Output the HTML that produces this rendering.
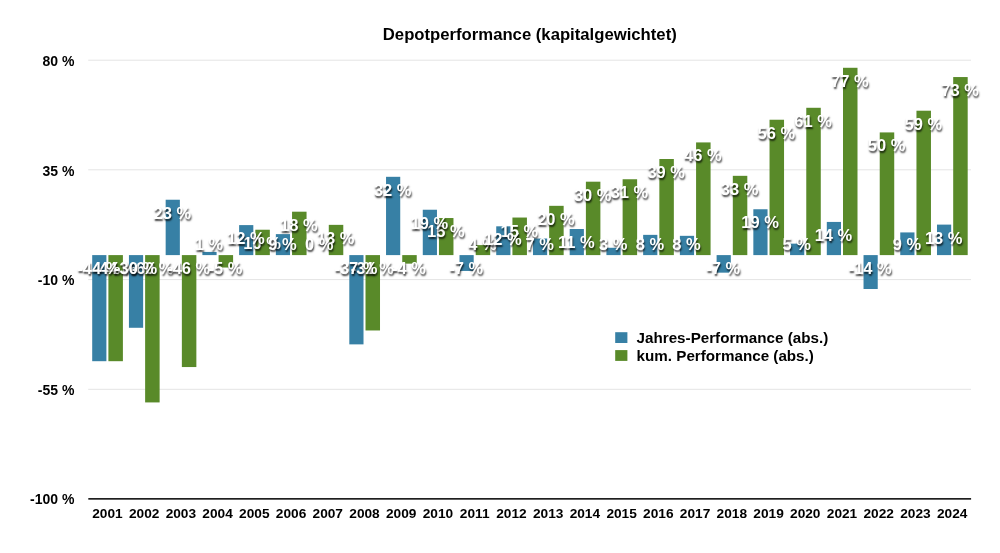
<!DOCTYPE html>
<html lang="de"><head><meta charset="utf-8"><title>Depotperformance (kapitalgewichtet)</title>
<style>
html,body{margin:0;padding:0;background:#fff;}
body{width:1000px;height:553px;position:relative;overflow:hidden;font-family:"Liberation Sans",Arial,Helvetica,sans-serif;font-weight:bold;color:#000;}
svg{position:absolute;left:0;top:0;}
.t{position:absolute;white-space:nowrap;font-weight:bold;}
.v{color:#fff;text-shadow:0.7px 1.6px 1.8px rgba(0,0,0,.75);}
</style></head><body>
<svg width="1000" height="553" viewBox="0 0 1000 553">
<rect x="88.2" y="59.70" width="882.8" height="1" fill="#e4e4e4"/>
<rect x="88.2" y="169.30" width="882.8" height="1" fill="#e4e4e4"/>
<rect x="88.2" y="279.10" width="882.8" height="1" fill="#e4e4e4"/>
<rect x="88.2" y="388.80" width="882.8" height="1" fill="#e4e4e4"/>
<rect x="92.20" y="255.10" width="14.2" height="106.10" fill="#3780a5"/>
<rect x="108.40" y="255.10" width="14.5" height="106.10" fill="#598a29"/>
<rect x="128.93" y="255.10" width="14.2" height="72.68" fill="#3780a5"/>
<rect x="145.13" y="255.10" width="14.5" height="147.32" fill="#598a29"/>
<rect x="165.66" y="199.73" width="14.2" height="55.37" fill="#3780a5"/>
<rect x="181.86" y="255.10" width="14.5" height="111.95" fill="#598a29"/>
<rect x="202.39" y="251.93" width="14.2" height="3.17" fill="#3780a5"/>
<rect x="218.59" y="255.10" width="14.5" height="12.44" fill="#598a29"/>
<rect x="239.12" y="225.10" width="14.2" height="30.00" fill="#3780a5"/>
<rect x="255.32" y="229.73" width="14.5" height="25.37" fill="#598a29"/>
<rect x="275.85" y="234.12" width="14.2" height="20.98" fill="#3780a5"/>
<rect x="292.05" y="211.69" width="14.5" height="43.41" fill="#598a29"/>
<rect x="328.78" y="224.86" width="14.5" height="30.24" fill="#598a29"/>
<rect x="349.31" y="255.10" width="14.2" height="89.27" fill="#3780a5"/>
<rect x="365.51" y="255.10" width="14.5" height="75.37" fill="#598a29"/>
<rect x="386.04" y="176.81" width="14.2" height="78.29" fill="#3780a5"/>
<rect x="402.24" y="255.10" width="14.5" height="8.54" fill="#598a29"/>
<rect x="422.77" y="209.73" width="14.2" height="45.37" fill="#3780a5"/>
<rect x="438.97" y="218.03" width="14.5" height="37.07" fill="#598a29"/>
<rect x="459.50" y="255.10" width="14.2" height="15.85" fill="#3780a5"/>
<rect x="475.70" y="245.10" width="14.5" height="10.00" fill="#598a29"/>
<rect x="496.23" y="226.32" width="14.2" height="28.78" fill="#3780a5"/>
<rect x="512.43" y="217.54" width="14.5" height="37.56" fill="#598a29"/>
<rect x="532.96" y="238.51" width="14.2" height="16.59" fill="#3780a5"/>
<rect x="549.16" y="205.83" width="14.5" height="49.27" fill="#598a29"/>
<rect x="569.69" y="229.00" width="14.2" height="26.10" fill="#3780a5"/>
<rect x="585.89" y="181.69" width="14.5" height="73.41" fill="#598a29"/>
<rect x="606.42" y="247.78" width="14.2" height="7.32" fill="#3780a5"/>
<rect x="622.62" y="179.25" width="14.5" height="75.85" fill="#598a29"/>
<rect x="643.15" y="234.86" width="14.2" height="20.24" fill="#3780a5"/>
<rect x="659.35" y="159.00" width="14.5" height="96.10" fill="#598a29"/>
<rect x="679.88" y="235.83" width="14.2" height="19.27" fill="#3780a5"/>
<rect x="696.08" y="142.42" width="14.5" height="112.68" fill="#598a29"/>
<rect x="716.61" y="255.10" width="14.2" height="17.56" fill="#3780a5"/>
<rect x="732.81" y="175.83" width="14.5" height="79.27" fill="#598a29"/>
<rect x="753.34" y="209.25" width="14.2" height="45.85" fill="#3780a5"/>
<rect x="769.54" y="119.74" width="14.5" height="135.36" fill="#598a29"/>
<rect x="790.07" y="243.64" width="14.2" height="11.46" fill="#3780a5"/>
<rect x="806.27" y="107.78" width="14.5" height="147.32" fill="#598a29"/>
<rect x="826.80" y="221.93" width="14.2" height="33.17" fill="#3780a5"/>
<rect x="843.00" y="67.78" width="14.5" height="187.32" fill="#598a29"/>
<rect x="863.53" y="255.10" width="14.2" height="33.90" fill="#3780a5"/>
<rect x="879.73" y="132.42" width="14.5" height="122.68" fill="#598a29"/>
<rect x="900.26" y="232.42" width="14.2" height="22.68" fill="#3780a5"/>
<rect x="916.46" y="110.71" width="14.5" height="144.39" fill="#598a29"/>
<rect x="936.99" y="224.61" width="14.2" height="30.49" fill="#3780a5"/>
<rect x="953.19" y="77.05" width="14.5" height="178.05" fill="#598a29"/>
<rect x="88.3" y="498" width="882.8" height="1.7" fill="#1f1f1f"/>
<rect x="615.2" y="332.2" width="12.2" height="10.8" fill="#3780a5"/>
<rect x="615.2" y="350.1" width="12.2" height="10.8" fill="#598a29"/>
</svg>
<div class="t" style="right:925.60px;top:53px;font-size:14px;line-height:16px;">80 %</div>
<div class="t" style="right:925.60px;top:163px;font-size:14px;line-height:16px;">35 %</div>
<div class="t" style="right:925.60px;top:272px;font-size:14px;line-height:16px;">-10 %</div>
<div class="t" style="right:925.60px;top:382px;font-size:14px;line-height:16px;">-55 %</div>
<div class="t" style="right:925.60px;top:491px;font-size:14px;line-height:16px;">-100 %</div>
<div class="t" style="left:-42.60px;width:300px;text-align:center;top:506px;font-size:13.7px;line-height:15px;">2001</div>
<div class="t" style="left:-5.87px;width:300px;text-align:center;top:506px;font-size:13.7px;line-height:15px;">2002</div>
<div class="t" style="left:30.86px;width:300px;text-align:center;top:506px;font-size:13.7px;line-height:15px;">2003</div>
<div class="t" style="left:67.59px;width:300px;text-align:center;top:506px;font-size:13.7px;line-height:15px;">2004</div>
<div class="t" style="left:104.32px;width:300px;text-align:center;top:506px;font-size:13.7px;line-height:15px;">2005</div>
<div class="t" style="left:141.05px;width:300px;text-align:center;top:506px;font-size:13.7px;line-height:15px;">2006</div>
<div class="t" style="left:177.78px;width:300px;text-align:center;top:506px;font-size:13.7px;line-height:15px;">2007</div>
<div class="t" style="left:214.51px;width:300px;text-align:center;top:506px;font-size:13.7px;line-height:15px;">2008</div>
<div class="t" style="left:251.24px;width:300px;text-align:center;top:506px;font-size:13.7px;line-height:15px;">2009</div>
<div class="t" style="left:287.97px;width:300px;text-align:center;top:506px;font-size:13.7px;line-height:15px;">2010</div>
<div class="t" style="left:324.70px;width:300px;text-align:center;top:506px;font-size:13.7px;line-height:15px;">2011</div>
<div class="t" style="left:361.43px;width:300px;text-align:center;top:506px;font-size:13.7px;line-height:15px;">2012</div>
<div class="t" style="left:398.16px;width:300px;text-align:center;top:506px;font-size:13.7px;line-height:15px;">2013</div>
<div class="t" style="left:434.89px;width:300px;text-align:center;top:506px;font-size:13.7px;line-height:15px;">2014</div>
<div class="t" style="left:471.62px;width:300px;text-align:center;top:506px;font-size:13.7px;line-height:15px;">2015</div>
<div class="t" style="left:508.35px;width:300px;text-align:center;top:506px;font-size:13.7px;line-height:15px;">2016</div>
<div class="t" style="left:545.08px;width:300px;text-align:center;top:506px;font-size:13.7px;line-height:15px;">2017</div>
<div class="t" style="left:581.81px;width:300px;text-align:center;top:506px;font-size:13.7px;line-height:15px;">2018</div>
<div class="t" style="left:618.54px;width:300px;text-align:center;top:506px;font-size:13.7px;line-height:15px;">2019</div>
<div class="t" style="left:655.27px;width:300px;text-align:center;top:506px;font-size:13.7px;line-height:15px;">2020</div>
<div class="t" style="left:692.00px;width:300px;text-align:center;top:506px;font-size:13.7px;line-height:15px;">2021</div>
<div class="t" style="left:728.73px;width:300px;text-align:center;top:506px;font-size:13.7px;line-height:15px;">2022</div>
<div class="t" style="left:765.46px;width:300px;text-align:center;top:506px;font-size:13.7px;line-height:15px;">2023</div>
<div class="t" style="left:802.19px;width:300px;text-align:center;top:506px;font-size:13.7px;line-height:15px;">2024</div>
<div class="t v" style="left:-34.75px;width:300px;text-align:center;top:259px;font-size:16.5px;line-height:18px;">-44 %</div>
<div class="t v" style="left:1.98px;width:300px;text-align:center;top:259px;font-size:16.5px;line-height:18px;">-60 %</div>
<div class="t v" style="left:38.71px;width:300px;text-align:center;top:259px;font-size:16.5px;line-height:18px;">-46 %</div>
<div class="t v" style="left:75.44px;width:300px;text-align:center;top:259px;font-size:16.5px;line-height:18px;">-5 %</div>
<div class="t v" style="left:112.17px;width:300px;text-align:center;top:234px;font-size:16.5px;line-height:18px;">10 %</div>
<div class="t v" style="left:148.90px;width:300px;text-align:center;top:216px;font-size:16.5px;line-height:18px;">18 %</div>
<div class="t v" style="left:185.63px;width:300px;text-align:center;top:229px;font-size:16.5px;line-height:18px;">13 %</div>
<div class="t v" style="left:222.36px;width:300px;text-align:center;top:259px;font-size:16.5px;line-height:18px;">-31 %</div>
<div class="t v" style="left:259.09px;width:300px;text-align:center;top:259px;font-size:16.5px;line-height:18px;">-4 %</div>
<div class="t v" style="left:295.82px;width:300px;text-align:center;top:222px;font-size:16.5px;line-height:18px;">15 %</div>
<div class="t v" style="left:332.55px;width:300px;text-align:center;top:235px;font-size:16.5px;line-height:18px;">4 %</div>
<div class="t v" style="left:369.28px;width:300px;text-align:center;top:222px;font-size:16.5px;line-height:18px;">15 %</div>
<div class="t v" style="left:406.01px;width:300px;text-align:center;top:210px;font-size:16.5px;line-height:18px;">20 %</div>
<div class="t v" style="left:442.74px;width:300px;text-align:center;top:186px;font-size:16.5px;line-height:18px;">30 %</div>
<div class="t v" style="left:479.47px;width:300px;text-align:center;top:183px;font-size:16.5px;line-height:18px;">31 %</div>
<div class="t v" style="left:516.20px;width:300px;text-align:center;top:163px;font-size:16.5px;line-height:18px;">39 %</div>
<div class="t v" style="left:552.93px;width:300px;text-align:center;top:146px;font-size:16.5px;line-height:18px;">46 %</div>
<div class="t v" style="left:589.66px;width:300px;text-align:center;top:180px;font-size:16.5px;line-height:18px;">33 %</div>
<div class="t v" style="left:626.39px;width:300px;text-align:center;top:124px;font-size:16.5px;line-height:18px;">56 %</div>
<div class="t v" style="left:663.12px;width:300px;text-align:center;top:112px;font-size:16.5px;line-height:18px;">61 %</div>
<div class="t v" style="left:699.85px;width:300px;text-align:center;top:72px;font-size:16.5px;line-height:18px;">77 %</div>
<div class="t v" style="left:736.58px;width:300px;text-align:center;top:136px;font-size:16.5px;line-height:18px;">50 %</div>
<div class="t v" style="left:773.31px;width:300px;text-align:center;top:115px;font-size:16.5px;line-height:18px;">59 %</div>
<div class="t v" style="left:810.04px;width:300px;text-align:center;top:81px;font-size:16.5px;line-height:18px;">73 %</div>
<div class="t v" style="left:-51.10px;width:300px;text-align:center;top:259px;font-size:16.5px;line-height:18px;">-44 %</div>
<div class="t v" style="left:-14.37px;width:300px;text-align:center;top:259px;font-size:16.5px;line-height:18px;">-30 %</div>
<div class="t v" style="left:22.36px;width:300px;text-align:center;top:204px;font-size:16.5px;line-height:18px;">23 %</div>
<div class="t v" style="left:59.09px;width:300px;text-align:center;top:235px;font-size:16.5px;line-height:18px;">1 %</div>
<div class="t v" style="left:95.82px;width:300px;text-align:center;top:229px;font-size:16.5px;line-height:18px;">12 %</div>
<div class="t v" style="left:132.55px;width:300px;text-align:center;top:235px;font-size:16.5px;line-height:18px;">9 %</div>
<div class="t v" style="left:169.28px;width:300px;text-align:center;top:235px;font-size:16.5px;line-height:18px;">0 %</div>
<div class="t v" style="left:206.01px;width:300px;text-align:center;top:259px;font-size:16.5px;line-height:18px;">-37 %</div>
<div class="t v" style="left:242.74px;width:300px;text-align:center;top:181px;font-size:16.5px;line-height:18px;">32 %</div>
<div class="t v" style="left:279.47px;width:300px;text-align:center;top:214px;font-size:16.5px;line-height:18px;">19 %</div>
<div class="t v" style="left:316.20px;width:300px;text-align:center;top:259px;font-size:16.5px;line-height:18px;">-7 %</div>
<div class="t v" style="left:352.93px;width:300px;text-align:center;top:230px;font-size:16.5px;line-height:18px;">12 %</div>
<div class="t v" style="left:389.66px;width:300px;text-align:center;top:235px;font-size:16.5px;line-height:18px;">7 %</div>
<div class="t v" style="left:426.39px;width:300px;text-align:center;top:233px;font-size:16.5px;line-height:18px;">11 %</div>
<div class="t v" style="left:463.12px;width:300px;text-align:center;top:235px;font-size:16.5px;line-height:18px;">3 %</div>
<div class="t v" style="left:499.85px;width:300px;text-align:center;top:235px;font-size:16.5px;line-height:18px;">8 %</div>
<div class="t v" style="left:536.58px;width:300px;text-align:center;top:235px;font-size:16.5px;line-height:18px;">8 %</div>
<div class="t v" style="left:573.31px;width:300px;text-align:center;top:259px;font-size:16.5px;line-height:18px;">-7 %</div>
<div class="t v" style="left:610.04px;width:300px;text-align:center;top:213px;font-size:16.5px;line-height:18px;">19 %</div>
<div class="t v" style="left:646.77px;width:300px;text-align:center;top:235px;font-size:16.5px;line-height:18px;">5 %</div>
<div class="t v" style="left:683.50px;width:300px;text-align:center;top:226px;font-size:16.5px;line-height:18px;">14 %</div>
<div class="t v" style="left:720.23px;width:300px;text-align:center;top:259px;font-size:16.5px;line-height:18px;">-14 %</div>
<div class="t v" style="left:756.96px;width:300px;text-align:center;top:235px;font-size:16.5px;line-height:18px;">9 %</div>
<div class="t v" style="left:793.69px;width:300px;text-align:center;top:229px;font-size:16.5px;line-height:18px;">13 %</div>
<div class="t" style="left:379.80px;width:300px;text-align:center;top:25px;font-size:16.7px;line-height:19px;">Depotperformance (kapitalgewichtet)</div>
<div class="t" style="left:636.60px;top:329px;font-size:15.2px;line-height:17px;">Jahres-Performance (abs.)</div>
<div class="t" style="left:636.60px;top:347px;font-size:15.2px;line-height:17px;">kum. Performance (abs.)</div>
</body></html>
